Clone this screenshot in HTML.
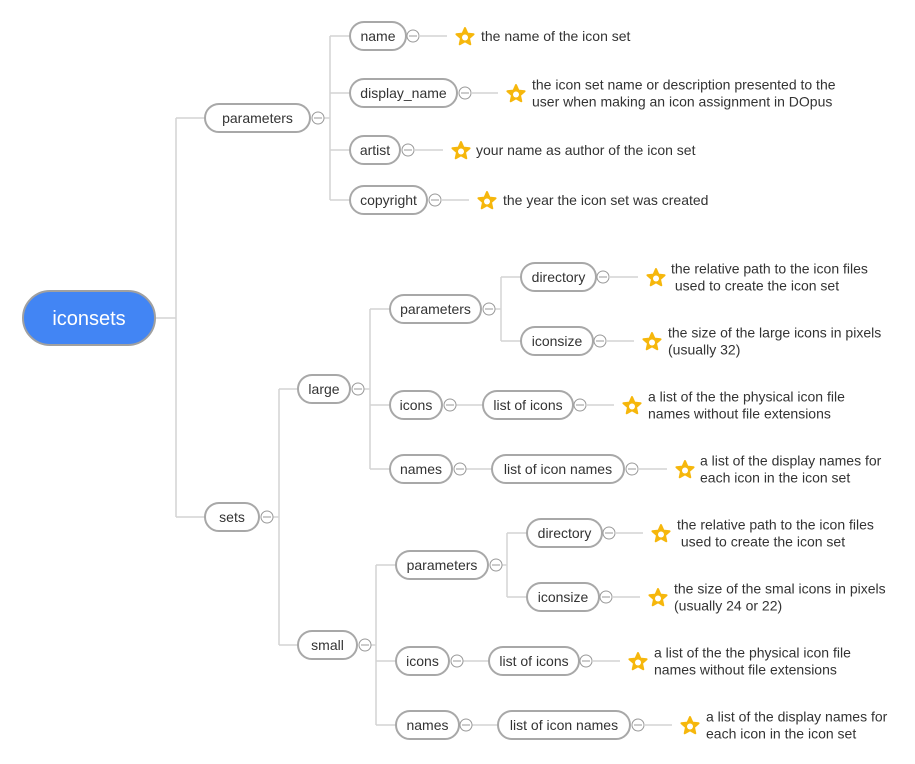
<!DOCTYPE html>
<html><head><meta charset="utf-8"><style>
html,body{margin:0;padding:0;background:#fff;width:915px;height:764px;overflow:hidden}
svg{display:block}
text{font-family:"Liberation Sans",Arial,sans-serif}
</style></head><body>
<svg id="map" width="915" height="764" xmlns="http://www.w3.org/2000/svg"></svg>
<script>
const NS='http://www.w3.org/2000/svg';
const svg=document.getElementById('map');
function mk(tag,attrs,parent){const e=document.createElementNS(NS,tag);for(const k in attrs)e.setAttribute(k,attrs[k]);(parent||svg).appendChild(e);return e;}
function line(pts){mk('polyline',{points:pts.map(p=>p.join(',')).join(' '),fill:'none',stroke:'#d4d4d4','stroke-width':1.5});}
line([[155,318],[176,318]]);
line([[176,118],[176,517]]);line([[176,118],[205,118]]);line([[176,517],[205,517]]);
line([[322,118],[330,118]]);line([[330,36],[330,200]]);
[36,93,150,200].forEach(y=>line([[330,y],[350,y]]));
line([[271,517],[279,517]]);line([[279,389],[279,645]]);line([[279,389],[298,389]]);line([[279,645],[298,645]]);
line([[362,389],[370,389]]);line([[370,309],[370,469]]);[309,405,469].forEach(y=>line([[370,y],[390,y]]));
line([[493,309],[501,309]]);line([[501,277],[501,341]]);[277,341].forEach(y=>line([[501,y],[521,y]]));
line([[369,645],[376,645]]);line([[376,565],[376,725]]);[565,661,725].forEach(y=>line([[376,y],[396,y]]));
line([[500,565],[507,565]]);line([[507,533],[507,597]]);[533,597].forEach(y=>line([[507,y],[527,y]]));
line([[454,405],[483,405]]);line([[464,469],[492,469]]);
line([[461,661],[489,661]]);line([[470,725],[498,725]]);

function node(name,label,x1,x2,y,cx){
  const g=mk('g',{});
  
  
  mk('rect',{x:x1,y:y-14,width:x2-x1,height:28,rx:14,fill:'#fff',stroke:'#a8a8a8','stroke-width':2},g);
  const t=mk('text',{x:(x1+x2)/2,y:y+5,'text-anchor':'middle','font-size':14,fill:'#333'},g);t.textContent=label;
  if(cx){const c=mk('g',{},g);
    
    
    mk('circle',{cx:cx,cy:y,r:6,fill:'#fff',stroke:'#999','stroke-width':1},c);
    mk('line',{x1:cx-4,y1:y,x2:cx+4,y2:y,stroke:'#999','stroke-width':1},c);}
}
function note(name,cx,y,sx,tx,lines){
  line([[cx+6,y],[sx-18,y]]);
  const g=mk('g',{});
  
  
  let p=[];for(let i=0;i<10;i++){const r=i%2?4.2:9,a=-Math.PI/2+i*Math.PI/5;p.push([sx+r*Math.cos(a),y+1+r*Math.sin(a)].join(','));}
  mk('polygon',{points:p.join(' '),fill:'#f6b70c',stroke:'#f6b70c','stroke-width':2,'stroke-linejoin':'round'},g);
  mk('circle',{cx:sx,cy:y+1.5,r:3,fill:'#fff'},g);
  const n=lines.length;
  lines.forEach((l,i)=>{const t=mk('text',{x:tx,y:y+5+(i-(n-1)/2)*17,'font-size':14,fill:'#333'},g);t.textContent=l;});
}
const r=mk('g',{});
mk('rect',{x:23,y:291,width:132,height:54,rx:27,fill:'#4285f4',stroke:'#a0a0a0','stroke-width':2},r);
const rt=mk('text',{x:89,y:325,'text-anchor':'middle','font-size':20,fill:'#fff'},r);rt.textContent='iconsets';

node('parameters-node','parameters',205,310,118,318);
node('name-node','name',350,406,36,413);
note('name-note',413,36,465,481,['the name of the icon set']);
node('display-name-node','display_name',350,457,93,465);
note('display-name-note',465,93,516,532,['the icon set name or description presented to the','user when making an icon assignment in DOpus']);
node('artist-node','artist',350,400,150,408);
note('artist-note',408,150,461,476,['your name as author of the icon set']);
node('copyright-node','copyright',350,427,200,435);
note('copyright-note',435,200,487,503,['the year the icon set was created']);

node('sets-node','sets',205,259,517,267);
node('large-node','large',298,350,389,358);
node('large-parameters-node','parameters',390,481,309,489);
node('large-directory-node','directory',521,596,277,603);
note('large-directory-note',603,277,656,671,['the relative path to the icon files','\u00a0used to create the icon set']);
node('large-iconsize-node','iconsize',521,593,341,600);
note('large-iconsize-note',600,341,652,668,['the size of the large icons in pixels','(usually 32)']);
node('large-icons-node','icons',390,442,405,450);
node('large-list-of-icons-node','list of icons',483,573,405,580);
note('large-icons-note',580,405,632,648,['a list of the the physical icon file','names without file extensions']);
node('large-names-node','names',390,452,469,460);
node('large-list-of-icon-names-node','list of icon names',492,624,469,632);
note('large-names-note',632,469,685,700,['a list of the display names for','each icon in the icon set']);

node('small-node','small',298,357,645,365);
node('small-parameters-node','parameters',396,488,565,496);
node('small-directory-node','directory',527,602,533,609);
note('small-directory-note',609,533,661,677,['the relative path to the icon files','\u00a0used to create the icon set']);
node('small-iconsize-node','iconsize',527,599,597,606);
note('small-iconsize-note',606,597,658,674,['the size of the smal icons in pixels','(usually 24 or 22)']);
node('small-icons-node','icons',396,449,661,457);
node('small-list-of-icons-node','list of icons',489,579,661,586);
note('small-icons-note',586,661,638,654,['a list of the the physical icon file','names without file extensions']);
node('small-names-node','names',396,459,725,466);
node('small-list-of-icon-names-node','list of icon names',498,630,725,638);
note('small-names-note',638,725,690,706,['a list of the display names for','each icon in the icon set']);
</script>
</body></html>
